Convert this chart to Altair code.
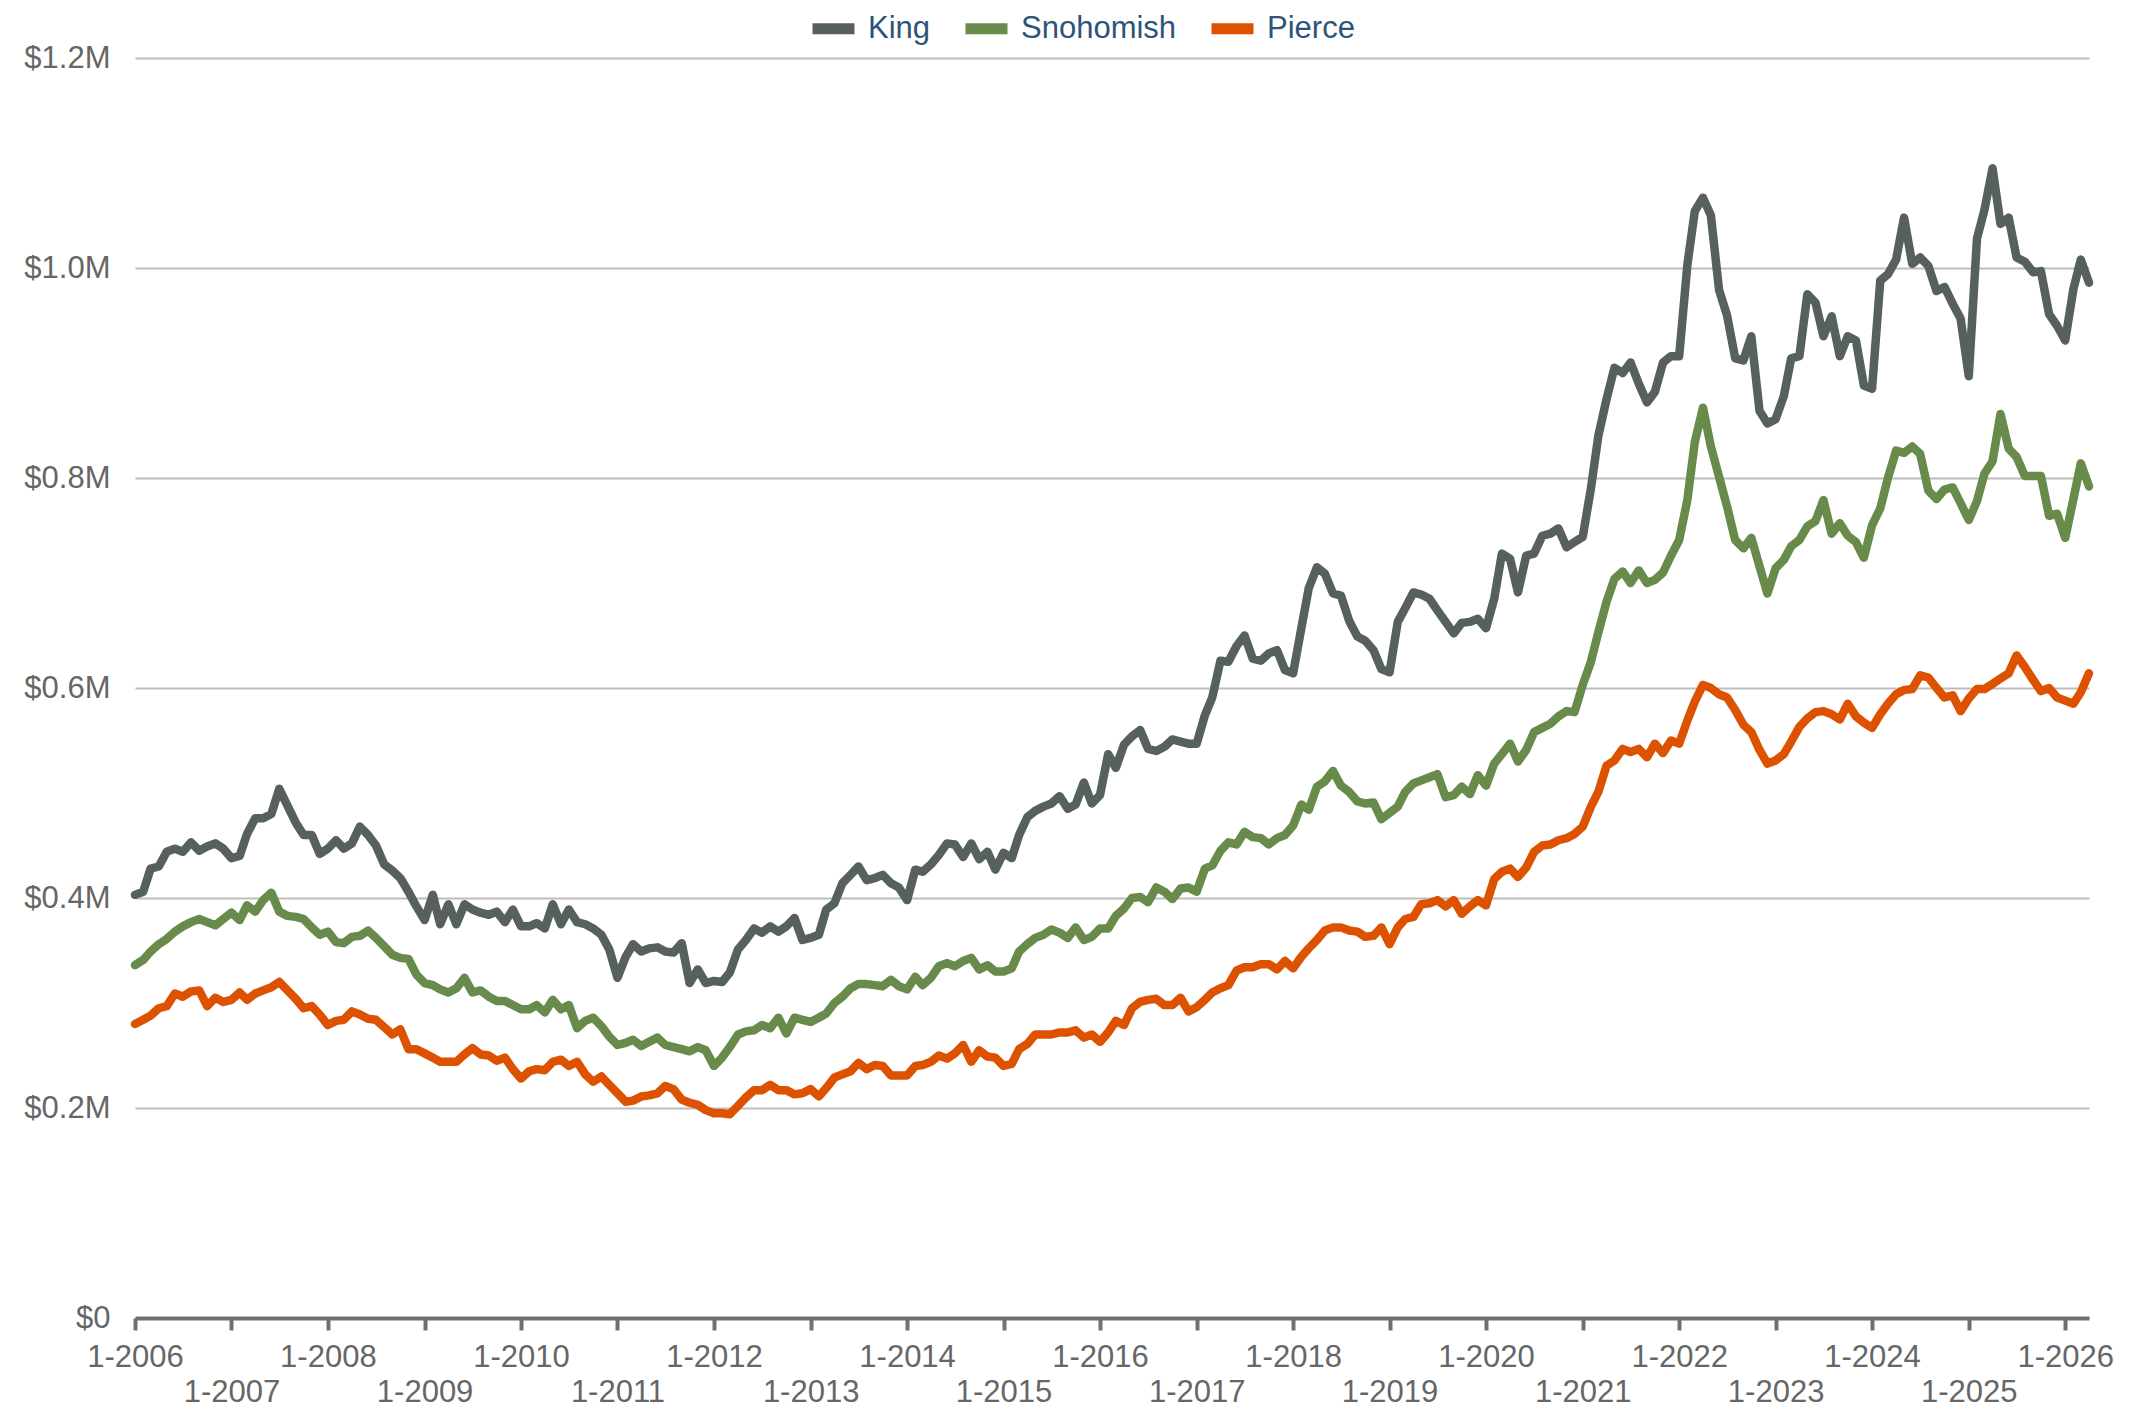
import altair as alt
import pandas as pd

# Monthly median values (thousands of dollars), Jan 2006 .. Apr 2026
king = [
    403, 406, 428, 430, 444, 447, 444, 453, 445, 449, 452, 447,   # 2006
    438, 440, 461, 476, 476, 480, 504, 488, 472, 460, 460, 442,   # 2007
    447, 455, 447, 452, 468, 460, 450, 432, 426, 419, 406, 392,   # 2008
    379, 403, 375, 394, 375, 394, 389, 386, 384, 387, 377, 389,   # 2009
    373, 373, 376, 371, 394, 375, 389, 377, 375, 371, 365, 351,   # 2010
    324, 344, 356, 349, 352, 353, 349, 348, 357, 319, 332, 319,   # 2011
    321, 320, 329, 351, 360, 371, 367, 373, 368, 373, 381, 360,   # 2012
    362, 365, 389, 395, 414, 422, 430, 417, 419, 422, 414, 410,   # 2013
    398, 427, 425, 432, 441, 452, 451, 439, 452, 437, 444, 427,   # 2014
    443, 438, 460, 477, 483, 487, 490, 497, 485, 489, 510, 490,   # 2015
    498, 537, 524, 546, 554, 560, 542, 540, 544, 551, 549, 547,   # 2016
    547, 574, 591, 626, 625, 640, 650, 628, 626, 633, 636, 617,   # 2017
    614, 657, 695, 715, 709, 690, 688, 664, 649, 645, 636, 618,   # 2018
    615, 663, 676, 691, 689, 685, 674, 663, 652, 662, 663, 666,   # 2019
    657, 685, 728, 723, 691, 726, 728, 745, 747, 752, 734, 739,   # 2020
    744, 790, 840, 875, 905, 900, 910, 890, 872, 882, 910, 916,   # 2021
    916, 1003, 1054, 1067, 1050, 979, 955, 914, 912, 935, 864, 852,   # 2022
    856, 878, 914, 916, 975, 967, 935, 954, 916, 935, 931, 888,   # 2023
    885, 988, 994, 1008, 1048, 1004, 1010, 1002, 978, 982, 966, 952,  # 2024
    897, 1028, 1055, 1095, 1042, 1048, 1010, 1006, 996, 997, 956, 945,  # 2025
    931, 980, 1008, 986,   # 2026
]
snohomish = [
    336, 341, 349, 356, 361, 368, 373, 377, 380, 377, 374, 380,
    386, 379, 393, 387, 398, 405, 387, 383, 382, 380, 372, 365,
    368, 358, 357, 363, 364, 369, 362, 354, 346, 343, 342, 327,
    319, 317, 313, 310, 314, 324, 310, 312, 306, 302, 302, 298,
    294, 294, 298, 291, 303, 294, 298, 276, 283, 286, 278, 268,
    260, 262, 265, 259, 263, 267, 260, 258, 256, 254, 258, 255,
    240, 248, 258, 270, 273, 274, 279, 276, 286, 271, 286, 284,
    282, 286, 290, 300, 306, 314, 318, 318, 317, 316, 322, 316,
    313, 325, 317, 324, 335, 338, 335, 340, 343, 332, 336, 330,
    330, 333, 349, 356, 362, 365, 370, 367, 362, 372, 360, 363,
    371, 371, 383, 390, 400, 401, 396, 410, 406, 399, 409, 410,
    406, 428, 431, 445, 453, 451, 463, 458, 457, 451, 457, 460,
    469, 489, 484, 506, 511, 521, 507, 501, 492, 490, 491, 475,
    481, 487, 501, 509, 512, 515, 518, 496, 498, 506, 499, 517,
    507, 528, 537, 547, 530, 541, 558, 562, 566, 573, 578, 577,
    603, 625, 653, 682, 704, 711, 700, 712, 700, 703, 710, 726,
    741, 779, 834, 867, 830, 801, 773, 741, 733, 743, 716, 690,
    714, 722, 735, 741, 754, 759, 779, 747, 757, 745, 739, 724,
    755, 771, 800, 826, 824, 830, 823, 788, 780, 789, 791, 776,
    760, 778, 804, 816, 861, 828, 820, 802, 802, 802, 764, 766,
    743, 780, 814, 792,
]
pierce = [
    280, 284, 288, 295, 297, 309, 306, 311, 312, 297, 305, 301,
    303, 310, 303, 309, 312, 315, 320, 312, 304, 295, 297, 289,
    279, 283, 284, 292, 289, 285, 284, 277, 270, 275, 256, 256,
    252, 248, 244, 244, 244, 251, 257, 251, 250, 245, 248, 237,
    228, 235, 237, 236, 244, 246, 240, 244, 232, 225, 230, 222,
    214, 206, 207, 211, 212, 214, 221, 218, 208, 205, 203, 198,
    195, 195, 194, 202, 210, 217, 217, 222, 217, 217, 213, 214,
    218, 211, 219, 229, 232, 235, 243, 237, 241, 240, 231, 231,
    231, 240, 241, 244, 250, 247, 252, 260, 244, 255, 249, 248,
    240, 242, 256, 261, 270, 270, 270, 272, 272, 274, 267, 270,
    263, 272, 283, 279, 295, 301, 303, 304, 298, 298, 305, 292,
    296, 303, 310, 314, 317, 331, 334, 334, 337, 337, 332, 340,
    333, 344, 352, 360, 369, 372, 372, 369, 368, 363, 364, 372,
    356, 372, 380, 382, 394, 395, 398, 392, 398, 385, 392, 398,
    393, 418, 425, 428, 420, 429, 444, 450, 451, 455, 457, 461,
    468, 487, 501, 526, 531, 542, 539, 542, 534, 547, 538, 550,
    547, 569, 587, 603, 600, 594, 591, 579, 565, 558, 541, 528,
    531, 537, 549, 563, 571, 577, 578, 575, 570, 585, 573, 567,
    562, 575, 585, 594, 598, 599, 612, 610, 600, 591, 593, 578,
    590, 599, 599, 604, 609, 614, 631, 620, 608, 597, 600, 591,
    588, 585, 596, 614,
]

series_names = ["King", "Snohomish", "Pierce"]
series_colors = ["#56605F", "#688A4A", "#DD5200"]
y_ticks = [0, 200000, 400000, 600000, 800000, 1000000, 1200000]
tick_years = list(range(2006, 2027))

dates = pd.date_range("2006-01-01", periods=len(king), freq="MS")
rows = []
for name, vals in zip(series_names, [king, snohomish, pierce]):
    for d, v in zip(dates, vals):
        rows.append({"date": d.strftime("%Y-%m-%dT00:00:00"), "series": name, "value": v * 1000})
df = pd.DataFrame(rows)

FONT = "Liberation Sans"

x_label_expr = (
    "year(datum.value) % 2 == 0 ? "
    "(month(datum.value) + 1) + '-' + year(datum.value) : "
    "['', (month(datum.value) + 1) + '-' + year(datum.value)]"
)

chart = (
    alt.Chart(df)
    .mark_line(strokeWidth=8.5, strokeJoin="round", strokeCap="round")
    .encode(
        x=alt.X(
            "date:T",
            scale=alt.Scale(
                domain=[
                    alt.DateTime(year=2006, month=1, date=1),
                    alt.DateTime(year=2026, month=4, date=1),
                ]
            ),
            axis=alt.Axis(
                title=None,
                values=[alt.DateTime(year=y, month=1, date=1) for y in tick_years],
                labelExpr=x_label_expr,
                labelFont=FONT,
                labelFontSize=31,
                labelColor="#666666",
                labelPadding=12,
                labelLineHeight=35,
                labelFlush=False,
                labelOverlap=False,
                labelBound=False,
                domainColor="#707070",
                domainWidth=4,
                tickColor="#707070",
                tickWidth=4,
                tickSize=12,
                grid=False,
            ),
        ),
        y=alt.Y(
            "value:Q",
            scale=alt.Scale(domain=[0, 1200000], nice=False),
            axis=alt.Axis(
                title=None,
                values=y_ticks,
                labelExpr="datum.value == 0 ? '$0' : '$' + format(datum.value / 1000000, '.1f') + 'M'",
                labelFont=FONT,
                labelFontSize=31,
                labelColor="#666666",
                labelPadding=25,
                domain=False,
                ticks=False,
                grid=True,
                gridColor="#BDBDBD",
                gridWidth=2,
            ),
        ),
        color=alt.Color(
            "series:N",
            scale=alt.Scale(domain=series_names, range=series_colors),
            legend=alt.Legend(
                title=None,
                orient="none",
                direction="horizontal",
                legendX=672,
                legendY=-56,
                symbolType="stroke",
                symbolSize=1764,
                symbolStrokeWidth=11,
                symbolOpacity=1,
                labelFont=FONT,
                labelFontSize=31,
                labelColor="#2D5478",
                labelOffset=8,
                columnPadding=12,
                padding=0,
            ),
        ),
    )
    .properties(
        width=1954,
        height=1260,
        autosize=alt.AutoSizeParams(type="none"),
        padding={"left": 127, "top": 50, "right": 30, "bottom": 92},
    )
    .configure_view(stroke=None)
)

chart.save("out.html", embed_options={"renderer": "svg", "actions": False})
